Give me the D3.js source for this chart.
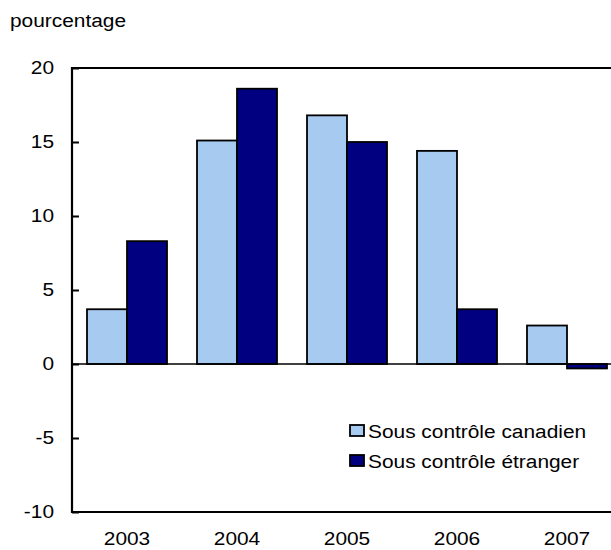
<!DOCTYPE html>
<meta charset="utf-8">
<style>
body { margin: 0; background: #fff; }
text { font-family: "Liberation Sans", Arial, sans-serif; font-size: 18px; fill: #000; }
</style>
<body>
<script src="https://d3js.org/d3.v7.min.js"></script>
<script>

var years = ["2003", "2004", "2005", "2006", "2007"];
var canadien = [3.7, 15.1, 16.8, 14.4, 2.6];
var etranger = [8.3, 18.6, 15.0, 3.7, -0.3];
var yTicks = [-10, -5, 0, 5, 10, 15, 20];
var seriesNames = ["Sous contrôle canadien", "Sous contrôle étranger"];
var colors = ["#a6caf0", "#000080"];

var width = 611, height = 550;
var plotLeft = 72, plotRight = 622, plotTop = 68, plotBottom = 512;
var stretch = 1.16; // text in the original is a bit wide

var svg = d3.select("body").append("svg")
    .attr("width", width)
    .attr("height", height);

var x = d3.scaleBand(years, [plotLeft, plotRight])
    .paddingInner(0.2727)
    .paddingOuter(0.1364);

var x1 = d3.scaleBand([0, 1], [0, x.bandwidth()]);

var y = d3.scaleLinear([-10, 20], [plotBottom, plotTop]);

function label(txt, px, py, anchor) {
  svg.append("text")
      .attr("transform", "translate(" + px + "," + py + ") scale(" + stretch + ",1)")
      .attr("text-anchor", anchor)
      .text(txt);
}

// y axis ticks (pointing inwards)
svg.append("g")
    .attr("transform", "translate(" + plotLeft + ",0)")
    .call(d3.axisLeft(y).tickValues(yTicks).tickSizeInner(-7).tickSizeOuter(0).tickFormat(""))
    .call(g => g.select(".domain").remove())
    .call(g => g.selectAll(".tick line").attr("stroke", "#000").attr("stroke-width", 2));

yTicks.forEach(function(t) {
  label(t, 54, y(t) + 6, "end");
});

// bars
var rows = years.map(function(yr, i) { return {year: yr, vals: [canadien[i], etranger[i]]}; });

var groups = svg.selectAll(".grp")
    .data(rows)
  .enter().append("g")
    .attr("class", "grp")
    .attr("transform", function(d) { return "translate(" + x(d.year) + ",0)"; });

groups.selectAll("rect")
    .data(function(d) { return d.vals.map(function(v, k) { return {k: k, v: v}; }); })
  .enter().append("rect")
    .attr("x", function(d) { return x1(d.k); })
    .attr("width", x1.bandwidth())
    .attr("y", function(d) { return y(Math.max(0, d.v)); })
    .attr("height", function(d) { return Math.abs(y(d.v) - y(0)); })
    .attr("fill", function(d) { return colors[d.k]; })
    .attr("stroke", "#000")
    .attr("stroke-width", 1.8);

// zero line
svg.append("line")
    .attr("x1", plotLeft).attr("x2", width)
    .attr("y1", y(0)).attr("y2", y(0))
    .attr("stroke", "#000")
    .attr("stroke-width", 1.5);

// frame
svg.append("path")
    .attr("d", "M" + width + "," + plotTop + "H" + plotLeft + "V" + plotBottom + "H" + width)
    .attr("fill", "none")
    .attr("stroke", "#000")
    .attr("stroke-width", 2.2);

// x labels
years.forEach(function(yr) {
  label(yr, x(yr) + x.bandwidth() / 2, 545, "middle");
});

label("pourcentage", 10, 27, "start");

// legend
seriesNames.forEach(function(name, i) {
  svg.append("rect")
      .attr("x", 350)
      .attr("y", 425 + i * 30)
      .attr("width", 14)
      .attr("height", 11)
      .attr("fill", colors[i])
      .attr("stroke", "#000")
      .attr("stroke-width", 1.8);
  label(name, 368, 438 + i * 30, "start");
});

</script>
